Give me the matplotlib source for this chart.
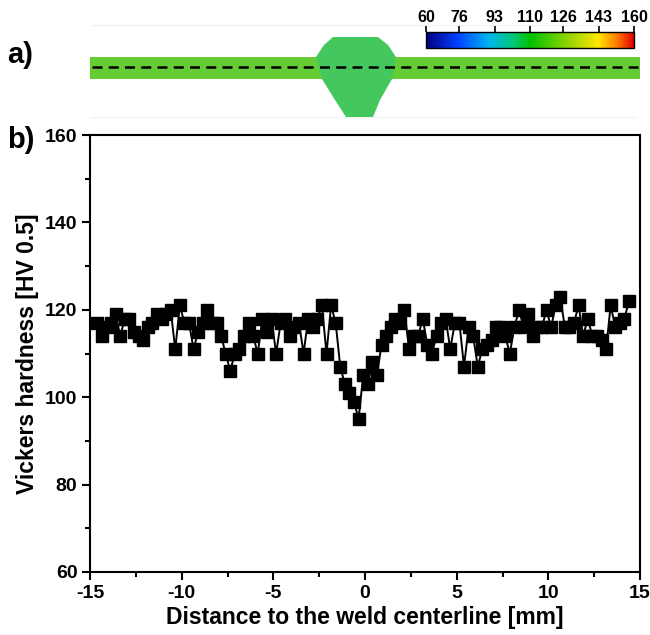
import numpy as np
import matplotlib
matplotlib.use('Agg')
import matplotlib.pyplot as plt
from matplotlib.colors import LinearSegmentedColormap, Normalize
from matplotlib.cm import ScalarMappable
from matplotlib.patches import Polygon, Rectangle
from matplotlib.ticker import MultipleLocator

plt.rcParams['font.family'] = ['Liberation Sans', 'DejaVu Sans']
plt.rcParams['font.weight'] = 'bold'
plt.rcParams['axes.unicode_minus'] = False

# hardness line scan (mm, HV 0.5)
distance = [-14.6, -14.35, -14.1, -13.85, -13.6, -13.35, -13.1, -12.85, -12.6, -12.35,
            -12.1, -11.85, -11.6, -11.35, -11.1, -10.85, -10.6, -10.35, -10.1, -9.85,
            -9.6, -9.35, -9.1, -8.85, -8.6, -8.35, -8.1, -7.85, -7.6, -7.35,
            -7.1, -6.85, -6.6, -6.35, -6.1, -5.85, -5.6, -5.35, -5.1, -4.85,
            -4.6, -4.35, -4.1, -3.85, -3.6, -3.35, -3.1, -2.85, -2.6, -2.35,
            -2.1, -1.85, -1.6, -1.35, -1.1, -0.85, -0.6, -0.35, -0.1, 0.15,
            0.4, 0.65, 0.9, 1.15, 1.4, 1.65, 1.9, 2.15, 2.4, 2.65,
            2.9, 3.15, 3.4, 3.65, 3.9, 4.15, 4.4, 4.65, 4.9, 5.15,
            5.4, 5.65, 5.9, 6.15, 6.4, 6.65, 6.9, 7.15, 7.4, 7.65,
            7.9, 8.15, 8.4, 8.65, 8.9, 9.15, 9.4, 9.65, 9.9, 10.15,
            10.4, 10.65, 10.9, 11.15, 11.4, 11.65, 11.9, 12.15, 12.4, 12.65,
            12.9, 13.15, 13.4, 13.65, 13.9, 14.15, 14.4]
hardness = [117, 114, 116, 117, 119, 114, 118, 118, 115, 114,
            113, 116, 117, 119, 118, 119, 120, 111, 121, 117,
            117, 111, 115, 117, 120, 117, 117, 114, 110, 106,
            110, 111, 114, 117, 114, 110, 118, 115, 118, 110,
            117, 118, 114, 116, 117, 110, 118, 116, 118, 121,
            110, 121, 117, 107, 103, 101, 99, 95, 105, 103,
            108, 105, 112, 114, 116, 118, 117, 120, 111, 114,
            114, 118, 112, 110, 114, 117, 118, 111, 117, 117,
            107, 116, 114, 107, 111, 112, 113, 116, 116, 114,
            110, 116, 120, 116, 119, 114, 116, 116, 120, 116,
            121, 123, 116, 116, 117, 121, 114, 118, 114, 114,
            113, 111, 121, 116, 117, 118, 122]

cbar_ticks = [60, 76, 93, 110, 126, 143, 160]
cbar_colors = ['#00007f', '#0040ff', '#00b4f0', '#00c878', '#00c000',
               '#7ed200', '#ffe600', '#ff7a00', '#e00000']

W, H = 650, 635
fig = plt.figure(figsize=(6.5, 6.35), dpi=100)

def box(x0, y0, x1, y1):
    # pixel box (top-left origin) -> figure fraction rect
    return [x0 / W, 1 - y1 / H, (x1 - x0) / W, (y1 - y0) / H]

# ---- panel a) : hardness map sketch ----
axm = fig.add_axes(box(90, 18, 640, 122))
axm.set_xlim(-15, 15)
axm.set_ylim(122, 18)
axm.axis('off')

def px2mm(px):
    return (px - 365) / 18.33

# faint frame behind the map
axm.plot([px2mm(80), px2mm(636)], [25, 25], color='#f2f2f2', lw=1)
axm.plot([px2mm(80), px2mm(636)], [117, 117], color='#f2f2f2', lw=1)

axm.add_patch(Rectangle((px2mm(90), 57), px2mm(640) - px2mm(90), 22,
                        facecolor='#66cc33', edgecolor='none', zorder=2))
nugget_px = [(333, 37), (378, 37), (388, 45), (396, 57), (392, 79), (380, 100),
             (373, 117), (346, 117), (335, 100), (322, 79), (316, 57), (324, 45)]
axm.add_patch(Polygon([(px2mm(a), b) for a, b in nugget_px], closed=True,
                      facecolor='#44c85e', edgecolor='none', zorder=3))
axm.plot([px2mm(92), px2mm(638)], [67, 67], color='black', lw=1.8,
         ls=(0, (4, 2.5)), zorder=4)

# colorbar
cmap = LinearSegmentedColormap.from_list(
    'hv', list(zip([0, 0.15, 0.3, 0.42, 0.5, 0.66, 0.83, 0.92, 1.0], cbar_colors)))
cax = fig.add_axes(box(426, 32, 634, 48))
cb = fig.colorbar(ScalarMappable(norm=Normalize(60, 160), cmap=cmap), cax=cax,
                  orientation='horizontal', ticks=cbar_ticks)
cax.xaxis.set_ticks_position('top')
cax.tick_params(labelsize=11.5, length=4, width=1.2, pad=1)
cb.outline.set_linewidth(1)

fig.text(7 / W, 1 - 55 / H, 'a)', fontsize=21, fontweight='bold', va='center', ha='left')
fig.text(7 / W, 1 - 140 / H, 'b)', fontsize=21, fontweight='bold', va='center', ha='left')

# ---- panel b) : hardness profile ----
ax = fig.add_axes(box(90, 135, 640, 572))
ax.plot(distance, hardness, color='black', lw=1.4, marker='s', ms=8.5,
        markerfacecolor='black', markeredgecolor='black')
ax.set_xlim(-15, 15)
ax.set_ylim(60, 160)
ax.xaxis.set_major_locator(MultipleLocator(5))
ax.xaxis.set_minor_locator(MultipleLocator(2.5))
ax.yaxis.set_major_locator(MultipleLocator(20))
ax.yaxis.set_minor_locator(MultipleLocator(10))
ax.tick_params(which='major', direction='out', length=6, width=1.5, labelsize=14, pad=3)
ax.tick_params(which='minor', direction='out', length=3.5, width=1.5)
for s in ax.spines.values():
    s.set_linewidth(1.5)
ax.set_xlabel('Distance to the weld centerline [mm]', fontsize=16.5, fontweight='bold', labelpad=3)
ax.set_ylabel('Vickers hardness [HV 0.5]', fontsize=16.5, fontweight='bold', labelpad=4)

fig.savefig('out.png', dpi=100)
